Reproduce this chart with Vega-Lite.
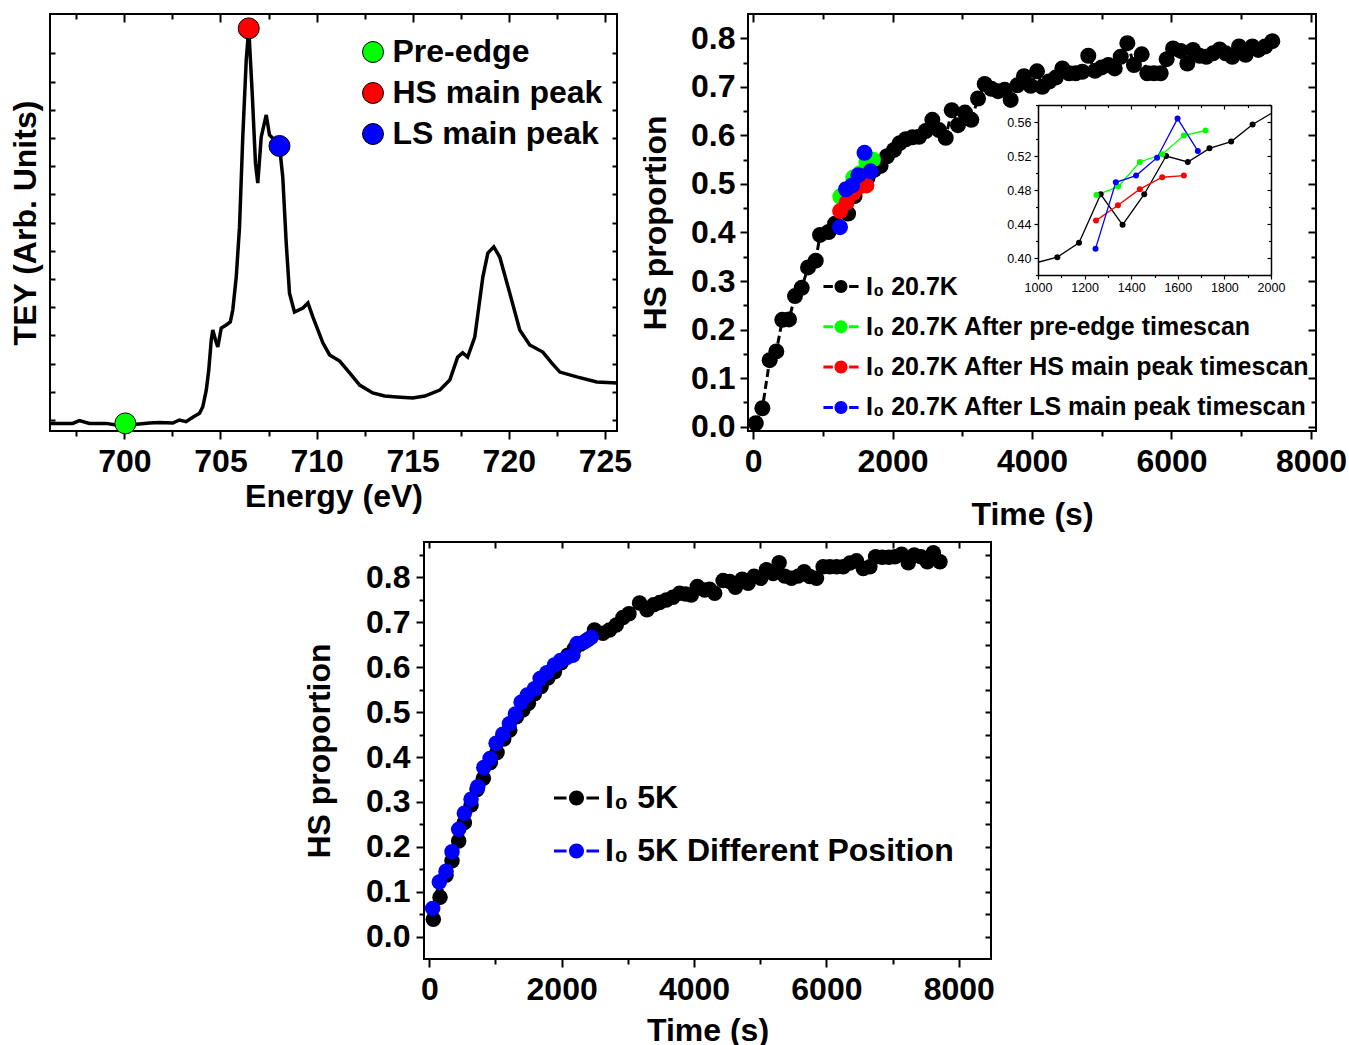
{
  "$schema": "https://vega.github.io/schema/vega-lite/v6.json",
  "background": "white",
  "padding": {"left": 8, "top": 12, "right": 0, "bottom": 0},
  "config": {
    "font": "Liberation Sans",
    "view": {"stroke": "#000", "strokeWidth": 2},
    "axis": {"grid": false, "domain": false, "labelFont": "Liberation Sans", "labelFontWeight": "bold", "labelFontSize": 32, "labelColor": "#000", "titleFont": "Liberation Sans", "titleFontWeight": "bold", "titleFontSize": 32, "titleColor": "#000", "tickColor": "#000", "tickWidth": 2, "labelOverlap": false, "labelFlush": false, "labelBound": false},
    "legend": {"labelFont": "Liberation Sans", "labelFontWeight": "bold", "labelColor": "#000", "padding": 0, "labelLimit": 2000}
  },
  "datasets": {
    "spectrum": [
      {"E":696.18,"v":-0.12},{"E":696.79,"v":-0.12},{"E":697.31,"v":-0.12},{"E":697.66,"v":-0.02},{"E":698.18,"v":-0.12},{"E":699.05,"v":-0.12},{"E":699.57,"v":-0.18},{"E":700.05,"v":-0.18},{"E":700.78,"v":-0.14},{"E":701.30,"v":-0.11},{"E":701.82,"v":-0.09},{"E":702.52,"v":-0.11},{"E":702.86,"v":0.0},{"E":703.21,"v":-0.06},{"E":703.56,"v":0.10},{"E":703.91,"v":0.24},{"E":704.08,"v":0.47},{"E":704.26,"v":1.06},{"E":704.39,"v":1.77},{"E":704.52,"v":2.84},{"E":704.60,"v":3.19},{"E":704.74,"v":2.84},{"E":704.86,"v":2.59},{"E":705.04,"v":3.26},{"E":705.30,"v":3.37},{"E":705.51,"v":3.48},{"E":705.64,"v":3.90},{"E":705.82,"v":5.07},{"E":705.99,"v":6.84},{"E":706.16,"v":10.04},{"E":706.34,"v":12.77},{"E":706.47,"v":13.88},{"E":706.65,"v":11.60},{"E":706.82,"v":9.11},{"E":706.94,"v":8.40},{"E":707.12,"v":10.04},{"E":707.38,"v":10.82},{"E":707.55,"v":10.11},{"E":707.81,"v":9.93},{"E":708.07,"v":9.72},{"E":708.24,"v":8.62},{"E":708.42,"v":6.28},{"E":708.59,"v":4.50},{"E":708.85,"v":3.83},{"E":709.29,"v":3.97},{"E":709.55,"v":4.15},{"E":709.81,"v":3.65},{"E":710.33,"v":2.73},{"E":710.68,"v":2.31},{"E":711.20,"v":2.09},{"E":711.72,"v":1.67},{"E":712.24,"v":1.24},{"E":712.92,"v":0.96},{"E":713.54,"v":0.85},{"E":714.17,"v":0.82},{"E":715.00,"v":0.78},{"E":715.63,"v":0.85},{"E":716.41,"v":1.06},{"E":716.93,"v":1.42},{"E":717.34,"v":2.23},{"E":717.60,"v":2.38},{"E":717.86,"v":2.23},{"E":718.23,"v":2.94},{"E":718.65,"v":5.07},{"E":718.91,"v":5.92},{"E":719.22,"v":6.14},{"E":719.53,"v":5.78},{"E":720.05,"v":4.50},{"E":720.57,"v":3.19},{"E":721.09,"v":2.66},{"E":721.77,"v":2.41},{"E":722.24,"v":2.02},{"E":722.66,"v":1.70},{"E":723.54,"v":1.53},{"E":724.58,"v":1.35},{"E":725.63,"v":1.31}
    ],
    "markers": [
      {"E":700.05,"v":-0.12,"label":"Pre-edge"},
      {"E":706.47,"v":13.89,"label":"HS main peak"},
      {"E":708.07,"v":9.72,"label":"LS main peak"}
    ],
    "ts20": [
      {"t":39,"y":0.007,"s":"I₀ 20.7K"},{"t":134,"y":0.038,"s":"I₀ 20.7K"},{"t":239,"y":0.137,"s":"I₀ 20.7K"},{"t":334,"y":0.155,"s":"I₀ 20.7K"},{"t":420,"y":0.220,"s":"I₀ 20.7K"},{"t":516,"y":0.221,"s":"I₀ 20.7K"},{"t":602,"y":0.269,"s":"I₀ 20.7K"},{"t":698,"y":0.286,"s":"I₀ 20.7K"},{"t":789,"y":0.328,"s":"I₀ 20.7K"},{"t":899,"y":0.342,"s":"I₀ 20.7K"},{"t":961,"y":0.395,"s":"I₀ 20.7K"},{"t":1083,"y":0.401,"s":"I₀ 20.7K"},{"t":1176,"y":0.418,"s":"I₀ 20.7K"},{"t":1269,"y":0.475,"s":"I₀ 20.7K"},{"t":1363,"y":0.439,"s":"I₀ 20.7K"},{"t":1456,"y":0.475,"s":"I₀ 20.7K"},{"t":1550,"y":0.520,"s":"I₀ 20.7K"},{"t":1643,"y":0.513,"s":"I₀ 20.7K"},{"t":1736,"y":0.529,"s":"I₀ 20.7K"},{"t":1829,"y":0.537,"s":"I₀ 20.7K"},{"t":1921,"y":0.557,"s":"I₀ 20.7K"},{"t":2022,"y":0.570,"s":"I₀ 20.7K"},{"t":2103,"y":0.584,"s":"I₀ 20.7K"},{"t":2189,"y":0.592,"s":"I₀ 20.7K"},{"t":2285,"y":0.596,"s":"I₀ 20.7K"},{"t":2380,"y":0.597,"s":"I₀ 20.7K"},{"t":2476,"y":0.609,"s":"I₀ 20.7K"},{"t":2571,"y":0.632,"s":"I₀ 20.7K"},{"t":2667,"y":0.611,"s":"I₀ 20.7K"},{"t":2763,"y":0.595,"s":"I₀ 20.7K"},{"t":2849,"y":0.652,"s":"I₀ 20.7K"},{"t":2939,"y":0.621,"s":"I₀ 20.7K"},{"t":3039,"y":0.647,"s":"I₀ 20.7K"},{"t":3130,"y":0.632,"s":"I₀ 20.7K"},{"t":3226,"y":0.676,"s":"I₀ 20.7K"},{"t":3322,"y":0.706,"s":"I₀ 20.7K"},{"t":3417,"y":0.696,"s":"I₀ 20.7K"},{"t":3513,"y":0.691,"s":"I₀ 20.7K"},{"t":3608,"y":0.694,"s":"I₀ 20.7K"},{"t":3694,"y":0.673,"s":"I₀ 20.7K"},{"t":3789,"y":0.703,"s":"I₀ 20.7K"},{"t":3885,"y":0.722,"s":"I₀ 20.7K"},{"t":3981,"y":0.702,"s":"I₀ 20.7K"},{"t":4072,"y":0.732,"s":"I₀ 20.7K"},{"t":4148,"y":0.700,"s":"I₀ 20.7K"},{"t":4244,"y":0.711,"s":"I₀ 20.7K"},{"t":4340,"y":0.719,"s":"I₀ 20.7K"},{"t":4435,"y":0.738,"s":"I₀ 20.7K"},{"t":4530,"y":0.728,"s":"I₀ 20.7K"},{"t":4626,"y":0.728,"s":"I₀ 20.7K"},{"t":4721,"y":0.731,"s":"I₀ 20.7K"},{"t":4807,"y":0.764,"s":"I₀ 20.7K"},{"t":4903,"y":0.733,"s":"I₀ 20.7K"},{"t":4999,"y":0.740,"s":"I₀ 20.7K"},{"t":5094,"y":0.745,"s":"I₀ 20.7K"},{"t":5186,"y":0.738,"s":"I₀ 20.7K"},{"t":5272,"y":0.762,"s":"I₀ 20.7K"},{"t":5367,"y":0.790,"s":"I₀ 20.7K"},{"t":5462,"y":0.745,"s":"I₀ 20.7K"},{"t":5573,"y":0.767,"s":"I₀ 20.7K"},{"t":5653,"y":0.728,"s":"I₀ 20.7K"},{"t":5749,"y":0.728,"s":"I₀ 20.7K"},{"t":5845,"y":0.728,"s":"I₀ 20.7K"},{"t":5931,"y":0.757,"s":"I₀ 20.7K"},{"t":6022,"y":0.779,"s":"I₀ 20.7K"},{"t":6132,"y":0.774,"s":"I₀ 20.7K"},{"t":6227,"y":0.748,"s":"I₀ 20.7K"},{"t":6308,"y":0.776,"s":"I₀ 20.7K"},{"t":6404,"y":0.764,"s":"I₀ 20.7K"},{"t":6499,"y":0.762,"s":"I₀ 20.7K"},{"t":6595,"y":0.769,"s":"I₀ 20.7K"},{"t":6691,"y":0.777,"s":"I₀ 20.7K"},{"t":6777,"y":0.769,"s":"I₀ 20.7K"},{"t":6872,"y":0.762,"s":"I₀ 20.7K"},{"t":6968,"y":0.783,"s":"I₀ 20.7K"},{"t":7063,"y":0.766,"s":"I₀ 20.7K"},{"t":7159,"y":0.783,"s":"I₀ 20.7K"},{"t":7245,"y":0.776,"s":"I₀ 20.7K"},{"t":7341,"y":0.783,"s":"I₀ 20.7K"},{"t":7445,"y":0.794,"s":"I₀ 20.7K"},
      {"t":1251,"y":0.474,"s":"I₀ 20.7K After pre-edge timescan"},{"t":1344,"y":0.484,"s":"I₀ 20.7K After pre-edge timescan"},{"t":1437,"y":0.513,"s":"I₀ 20.7K After pre-edge timescan"},{"t":1533,"y":0.522,"s":"I₀ 20.7K After pre-edge timescan"},{"t":1626,"y":0.544,"s":"I₀ 20.7K After pre-edge timescan"},{"t":1719,"y":0.550,"s":"I₀ 20.7K After pre-edge timescan"},
      {"t":1249,"y":0.444,"s":"I₀ 20.7K After HS main peak timescan"},{"t":1343,"y":0.462,"s":"I₀ 20.7K After HS main peak timescan"},{"t":1437,"y":0.481,"s":"I₀ 20.7K After HS main peak timescan"},{"t":1533,"y":0.495,"s":"I₀ 20.7K After HS main peak timescan"},{"t":1626,"y":0.497,"s":"I₀ 20.7K After HS main peak timescan"},
      {"t":1247,"y":0.411,"s":"I₀ 20.7K After LS main peak timescan"},{"t":1334,"y":0.489,"s":"I₀ 20.7K After LS main peak timescan"},{"t":1421,"y":0.497,"s":"I₀ 20.7K After LS main peak timescan"},{"t":1511,"y":0.518,"s":"I₀ 20.7K After LS main peak timescan"},{"t":1599,"y":0.564,"s":"I₀ 20.7K After LS main peak timescan"},{"t":1686,"y":0.526,"s":"I₀ 20.7K After LS main peak timescan"}
    ],
    "ts5": [
      {"t":61,"y":0.039,"s":"I₀ 5K"},{"t":162,"y":0.088,"s":"I₀ 5K"},{"t":253,"y":0.137,"s":"I₀ 5K"},{"t":343,"y":0.169,"s":"I₀ 5K"},{"t":444,"y":0.213,"s":"I₀ 5K"},{"t":530,"y":0.254,"s":"I₀ 5K"},{"t":631,"y":0.293,"s":"I₀ 5K"},{"t":722,"y":0.328,"s":"I₀ 5K"},{"t":817,"y":0.353,"s":"I₀ 5K"},{"t":923,"y":0.388,"s":"I₀ 5K"},{"t":1024,"y":0.410,"s":"I₀ 5K"},{"t":1125,"y":0.440,"s":"I₀ 5K"},{"t":1216,"y":0.460,"s":"I₀ 5K"},{"t":1316,"y":0.490,"s":"I₀ 5K"},{"t":1413,"y":0.505,"s":"I₀ 5K"},{"t":1498,"y":0.520,"s":"I₀ 5K"},{"t":1589,"y":0.541,"s":"I₀ 5K"},{"t":1690,"y":0.557,"s":"I₀ 5K"},{"t":1791,"y":0.576,"s":"I₀ 5K"},{"t":1891,"y":0.590,"s":"I₀ 5K"},{"t":1992,"y":0.610,"s":"I₀ 5K"},{"t":2094,"y":0.627,"s":"I₀ 5K"},{"t":2194,"y":0.642,"s":"I₀ 5K"},{"t":2285,"y":0.652,"s":"I₀ 5K"},{"t":2396,"y":0.662,"s":"I₀ 5K"},{"t":2496,"y":0.683,"s":"I₀ 5K"},{"t":2623,"y":0.676,"s":"I₀ 5K"},{"t":2723,"y":0.683,"s":"I₀ 5K"},{"t":2825,"y":0.694,"s":"I₀ 5K"},{"t":2926,"y":0.711,"s":"I₀ 5K"},{"t":3017,"y":0.719,"s":"I₀ 5K"},{"t":3177,"y":0.743,"s":"I₀ 5K"},{"t":3289,"y":0.728,"s":"I₀ 5K"},{"t":3389,"y":0.739,"s":"I₀ 5K"},{"t":3480,"y":0.744,"s":"I₀ 5K"},{"t":3581,"y":0.750,"s":"I₀ 5K"},{"t":3682,"y":0.756,"s":"I₀ 5K"},{"t":3782,"y":0.765,"s":"I₀ 5K"},{"t":3873,"y":0.763,"s":"I₀ 5K"},{"t":3959,"y":0.761,"s":"I₀ 5K"},{"t":4050,"y":0.780,"s":"I₀ 5K"},{"t":4160,"y":0.772,"s":"I₀ 5K"},{"t":4236,"y":0.774,"s":"I₀ 5K"},{"t":4312,"y":0.765,"s":"I₀ 5K"},{"t":4439,"y":0.793,"s":"I₀ 5K"},{"t":4539,"y":0.791,"s":"I₀ 5K"},{"t":4625,"y":0.778,"s":"I₀ 5K"},{"t":4726,"y":0.796,"s":"I₀ 5K"},{"t":4817,"y":0.787,"s":"I₀ 5K"},{"t":4908,"y":0.803,"s":"I₀ 5K"},{"t":5008,"y":0.798,"s":"I₀ 5K"},{"t":5094,"y":0.817,"s":"I₀ 5K"},{"t":5195,"y":0.809,"s":"I₀ 5K"},{"t":5286,"y":0.833,"s":"I₀ 5K"},{"t":5371,"y":0.803,"s":"I₀ 5K"},{"t":5472,"y":0.798,"s":"I₀ 5K"},{"t":5573,"y":0.803,"s":"I₀ 5K"},{"t":5664,"y":0.813,"s":"I₀ 5K"},{"t":5749,"y":0.802,"s":"I₀ 5K"},{"t":5850,"y":0.798,"s":"I₀ 5K"},{"t":5951,"y":0.824,"s":"I₀ 5K"},{"t":6051,"y":0.824,"s":"I₀ 5K"},{"t":6153,"y":0.824,"s":"I₀ 5K"},{"t":6254,"y":0.824,"s":"I₀ 5K"},{"t":6354,"y":0.832,"s":"I₀ 5K"},{"t":6455,"y":0.837,"s":"I₀ 5K"},{"t":6557,"y":0.820,"s":"I₀ 5K"},{"t":6657,"y":0.824,"s":"I₀ 5K"},{"t":6743,"y":0.846,"s":"I₀ 5K"},{"t":6844,"y":0.845,"s":"I₀ 5K"},{"t":6944,"y":0.845,"s":"I₀ 5K"},{"t":7035,"y":0.846,"s":"I₀ 5K"},{"t":7136,"y":0.852,"s":"I₀ 5K"},{"t":7237,"y":0.833,"s":"I₀ 5K"},{"t":7328,"y":0.850,"s":"I₀ 5K"},{"t":7428,"y":0.846,"s":"I₀ 5K"},{"t":7525,"y":0.835,"s":"I₀ 5K"},{"t":7616,"y":0.855,"s":"I₀ 5K"},{"t":7716,"y":0.835,"s":"I₀ 5K"},
      {"t":51,"y":0.063,"s":"I₀ 5K Different Position"},{"t":151,"y":0.122,"s":"I₀ 5K Different Position"},{"t":253,"y":0.146,"s":"I₀ 5K Different Position"},{"t":343,"y":0.189,"s":"I₀ 5K Different Position"},{"t":444,"y":0.239,"s":"I₀ 5K Different Position"},{"t":530,"y":0.275,"s":"I₀ 5K Different Position"},{"t":631,"y":0.306,"s":"I₀ 5K Different Position"},{"t":732,"y":0.334,"s":"I₀ 5K Different Position"},{"t":823,"y":0.377,"s":"I₀ 5K Different Position"},{"t":918,"y":0.397,"s":"I₀ 5K Different Position"},{"t":1009,"y":0.431,"s":"I₀ 5K Different Position"},{"t":1110,"y":0.451,"s":"I₀ 5K Different Position"},{"t":1210,"y":0.474,"s":"I₀ 5K Different Position"},{"t":1301,"y":0.496,"s":"I₀ 5K Different Position"},{"t":1387,"y":0.522,"s":"I₀ 5K Different Position"},{"t":1478,"y":0.538,"s":"I₀ 5K Different Position"},{"t":1589,"y":0.552,"s":"I₀ 5K Different Position"},{"t":1675,"y":0.575,"s":"I₀ 5K Different Position"},{"t":1776,"y":0.588,"s":"I₀ 5K Different Position"},{"t":1891,"y":0.605,"s":"I₀ 5K Different Position"},{"t":1982,"y":0.615,"s":"I₀ 5K Different Position"},{"t":2083,"y":0.622,"s":"I₀ 5K Different Position"},{"t":2169,"y":0.627,"s":"I₀ 5K Different Position"},{"t":2235,"y":0.653,"s":"I₀ 5K Different Position"},{"t":2345,"y":0.657,"s":"I₀ 5K Different Position"},{"t":2446,"y":0.667,"s":"I₀ 5K Different Position"}
    ]
  },
  "spacing": 7,
  "resolve": {"scale": {"color": "independent", "fill": "independent", "stroke": "independent"}},
  "vconcat": [
    {
      "spacing": 5,
      "resolve": {"scale": {"color": "independent", "fill": "independent", "stroke": "independent"}},
      "hconcat": [
        {
          "width": 567, "height": 417,
          "layer": [
            {
              "data": {"name": "spectrum"},
              "mark": {"type": "line", "color": "#000", "strokeWidth": 3.5},
              "encoding": {
                "x": {"field": "E", "type": "quantitative", "scale": {"domain": [696.13, 725.63], "nice": false, "zero": false},
                  "axis": {"orient": "bottom", "values": [697.5,700,702.5,705,707.5,710,712.5,715,717.5,720,722.5,725], "labelExpr": "datum.value % 5 === 0 ? format(datum.value, 'd') : ''", "tickSize": 8, "tickDash": {"condition": {"test": "datum.value % 5 === 0", "value": [20, 1]}, "value": [5, 20]}, "labelPadding": 7, "labelFlush": false, "labelOverlap": false, "title": "Energy (eV)", "titlePadding": 4}},
                "y": {"field": "v", "type": "quantitative", "scale": {"domain": [-0.39, 14.4], "nice": false, "zero": false},
                  "axis": {"orient": "left", "values": [0,1,2,3,4,5,6,7,8,9,10,11,12,13], "labels": false, "tickSize": -5, "title": "TEY (Arb. Units)", "titlePadding": 7}}
              }
            },
            {
              "data": {"name": "markers"},
              "mark": {"type": "point", "filled": true, "size": 441, "stroke": "#000", "strokeWidth": 1, "opacity": 1},
              "encoding": {
                "x": {"field": "E", "type": "quantitative",
                  "axis": {"orient": "top", "values": [697.5,700,702.5,705,707.5,710,712.5,715,717.5,720,722.5,725], "labels": false, "tickSize": -8, "tickDash": {"condition": {"test": "datum.value % 5 === 0", "value": [20, 1]}, "value": [5, 20]}, "title": null}},
                "y": {"field": "v", "type": "quantitative",
                  "axis": {"orient": "right", "values": [0,1,2,3,4,5,6,7,8,9,10,11,12,13], "labels": false, "tickSize": -5, "title": null}},
                "fill": {"field": "label", "type": "nominal", "scale": {"domain": ["Pre-edge", "HS main peak", "LS main peak"], "range": ["#00ff00", "#ff0000", "#0000ff"]},
                  "legend": {"orient": "none", "legendX": 307, "legendY": 22, "title": null, "symbolType": "circle", "symbolSize": 441, "symbolStrokeColor": "#000", "symbolStrokeWidth": 1, "symbolOpacity": 1, "labelFontSize": 32, "labelOffset": 3.5, "rowPadding": 9}}
              }
            }
          ],
          "resolve": {"axis": {"x": "independent", "y": "independent"}}
        },
        {
          "width": 568, "height": 417,
          "data": {"name": "ts20"},
          "layer": [
            {
              "layer": [
                {
                  "mark": {"type": "line", "strokeWidth": 3, "strokeDash": [8, 4]},
                  "encoding": {
                    "x": {"field": "t", "type": "quantitative", "scale": {"domain": [-72, 8072], "nice": false, "zero": false},
                      "axis": {"orient": "bottom", "values": [0,1000,2000,3000,4000,5000,6000,7000,8000], "labelExpr": "datum.value % 2000 === 0 ? format(datum.value, 'd') : ''", "tickSize": 8, "tickDash": {"condition": {"test": "datum.value % 2000 === 0", "value": [20, 1]}, "value": [5, 20]}, "labelPadding": 7, "labelFlush": false, "labelOverlap": false, "title": "Time (s)", "titlePadding": 22}},
                    "y": {"field": "y", "type": "quantitative", "scale": {"domain": [-0.0089, 0.85], "nice": false, "zero": false},
                      "axis": {"orient": "left", "values": [0,0.05,0.1,0.15,0.2,0.25,0.3,0.35,0.4,0.45,0.5,0.55,0.6,0.65,0.7,0.75,0.8], "labelExpr": "abs(datum.value*10-round(datum.value*10)) < 0.001 ? format(datum.value, '.1f') : ''", "tickSize": 8, "tickDash": {"condition": {"test": "abs(datum.value*10-round(datum.value*10)) < 0.001", "value": [20, 1]}, "value": [5, 20]}, "labelPadding": 5, "labelOverlap": false, "title": "HS proportion", "titlePadding": 18}},
                    "stroke": {"field": "s", "type": "nominal", "scale": {"domain": ["I₀ 20.7K", "I₀ 20.7K After pre-edge timescan", "I₀ 20.7K After HS main peak timescan", "I₀ 20.7K After LS main peak timescan"], "range": ["#000000", "#00ff00", "#ff0000", "#0000ff"]},
                      "legend": {"orient": "none", "legendX": 80.5, "legendY": 260, "title": null, "symbolType": "M -2.7 -0.23 L -1.25 -0.23 L -1.25 0.23 L -2.7 0.23 Z M 1.25 -0.23 L 2.7 -0.23 L 2.7 0.23 L 1.25 0.23 Z M -1 0 A 1 1 0 1 1 1 0 A 1 1 0 1 1 -1 0 Z", "symbolSize": 169, "symbolStrokeWidth": 0, "symbolOpacity": 1, "labelFontSize": 25, "labelOffset": 12.5, "rowPadding": 14.3}}
                  }
                },
                {
                  "mark": {"type": "point", "filled": true, "size": 256, "opacity": 1},
                  "encoding": {
                    "x": {"field": "t", "type": "quantitative",
                      "axis": {"orient": "top", "values": [0,1000,2000,3000,4000,5000,6000,7000,8000], "labels": false, "tickSize": -8, "tickDash": {"condition": {"test": "datum.value % 2000 === 0", "value": [20, 1]}, "value": [5, 20]}, "title": null}},
                    "y": {"field": "y", "type": "quantitative",
                      "axis": {"orient": "right", "values": [0,0.05,0.1,0.15,0.2,0.25,0.3,0.35,0.4,0.45,0.5,0.55,0.6,0.65,0.7,0.75,0.8], "labels": false, "tickSize": -8, "tickDash": {"condition": {"test": "abs(datum.value*10-round(datum.value*10)) < 0.001", "value": [20, 1]}, "value": [5, 20]}, "title": null}},
                    "color": {"field": "s", "type": "nominal", "scale": {"domain": ["I₀ 20.7K", "I₀ 20.7K After pre-edge timescan", "I₀ 20.7K After HS main peak timescan", "I₀ 20.7K After LS main peak timescan"], "range": ["#000000", "#00ff00", "#ff0000", "#0000ff"]},
                      "legend": {"orient": "none", "legendX": 80.5, "legendY": 260, "title": null, "symbolType": "M -2.7 -0.23 L -1.25 -0.23 L -1.25 0.23 L -2.7 0.23 Z M 1.25 -0.23 L 2.7 -0.23 L 2.7 0.23 L 1.25 0.23 Z M -1 0 A 1 1 0 1 1 1 0 A 1 1 0 1 1 -1 0 Z", "symbolSize": 169, "symbolStrokeWidth": 0, "symbolOpacity": 1, "labelFontSize": 25, "labelOffset": 12.5, "rowPadding": 14.3}}
                  }
                }
              ],
              "resolve": {"axis": {"x": "independent", "y": "independent"}}
            },
            {
              "layer": [
                {
                  "transform": [{"filter": "datum.t >= 950 && datum.t <= 2030"}],
                  "mark": {"type": "line", "strokeWidth": 1.3},
                  "encoding": {
                    "x": {"field": "t", "type": "quantitative", "scale": {"domain": [1000, 2000], "range": [290, 523], "clamp": true, "nice": false, "zero": false},
                      "axis": {"orient": "bottom", "offset": -156, "values": [1000,1100,1200,1300,1400,1500,1600,1700,1800,1900,2000], "labelExpr": "datum.value % 200 === 0 ? format(datum.value, 'd') : ''", "tickSize": 4, "tickWidth": 1.2, "tickDash": {"condition": {"test": "datum.value % 200 === 0", "value": [20, 1]}, "value": [2.5, 20]}, "labelFontSize": 12.5, "labelFontWeight": "normal", "labelPadding": 2, "labelFlush": false, "labelOverlap": false, "domain": true, "domainColor": "#000", "domainWidth": 1.5, "title": null}},
                    "y": {"field": "y", "type": "quantitative", "scale": {"domain": [0.38, 0.58], "range": [261, 91], "nice": false, "zero": false},
                      "axis": {"orient": "left", "offset": -290, "values": [0.38,0.4,0.42,0.44,0.46,0.48,0.5,0.52,0.54,0.56,0.58], "labelExpr": "abs(datum.value*25-round(datum.value*25)) < 0.001 ? format(datum.value, '.2f') : ''", "tickSize": 4, "tickWidth": 1.2, "tickDash": {"condition": {"test": "abs(datum.value*25-round(datum.value*25)) < 0.001", "value": [20, 1]}, "value": [2.5, 20]}, "labelFontSize": 12.5, "labelFontWeight": "normal", "labelPadding": 3, "labelOverlap": false, "domain": true, "domainColor": "#000", "domainWidth": 1.5, "title": null}},
                    "stroke": {"field": "s", "type": "nominal"}
                  }
                },
                {
                  "transform": [{"filter": "datum.t >= 1000 && datum.t <= 2000"}],
                  "mark": {"type": "point", "filled": true, "size": 36, "opacity": 1},
                  "encoding": {
                    "x": {"field": "t", "type": "quantitative",
                      "axis": {"orient": "top", "offset": -91, "values": [1000,1100,1200,1300,1400,1500,1600,1700,1800,1900,2000], "labels": false, "tickSize": -4, "tickWidth": 1.2, "tickDash": {"condition": {"test": "datum.value % 200 === 0", "value": [20, 1]}, "value": [2.5, 20]}, "domain": true, "domainColor": "#000", "domainWidth": 1.5, "title": null}},
                    "y": {"field": "y", "type": "quantitative",
                      "axis": {"orient": "right", "offset": -45, "values": [0.38,0.4,0.42,0.44,0.46,0.48,0.5,0.52,0.54,0.56,0.58], "labels": false, "tickSize": -4, "tickWidth": 1.2, "tickDash": {"condition": {"test": "abs(datum.value*25-round(datum.value*25)) < 0.001", "value": [20, 1]}, "value": [2.5, 20]}, "domain": true, "domainColor": "#000", "domainWidth": 1.5, "title": null}},
                    "color": {"field": "s", "type": "nominal"}
                  }
                }
              ],
              "resolve": {"axis": {"x": "independent", "y": "independent"}}
            }
          ],
          "resolve": {"scale": {"x": "independent", "y": "independent"}}
        }
      ]
    },
    {
      "spacing": 0,
      "resolve": {"scale": {"color": "independent", "fill": "independent", "stroke": "independent"}},
      "hconcat": [
        {"width": 252, "height": 10, "data": {"values": []}, "mark": "point", "view": {"stroke": null}},
        {
          "width": 567, "height": 417,
          "data": {"name": "ts5"},
          "layer": [
            {
              "mark": {"type": "line", "strokeWidth": 3, "strokeDash": [8, 4]},
              "encoding": {
                "x": {"field": "t", "type": "quantitative", "scale": {"domain": [-80, 8487], "nice": false, "zero": false},
                  "axis": {"orient": "bottom", "values": [0,1000,2000,3000,4000,5000,6000,7000,8000], "labelExpr": "datum.value % 2000 === 0 ? format(datum.value, 'd') : ''", "tickSize": 8, "tickDash": {"condition": {"test": "datum.value % 2000 === 0", "value": [20, 1]}, "value": [5, 20]}, "labelPadding": 7, "labelFlush": false, "labelOverlap": false, "title": "Time (s)", "titlePadding": 10}},
                "y": {"field": "y", "type": "quantitative", "scale": {"domain": [-0.0497, 0.879], "nice": false, "zero": false},
                  "axis": {"orient": "left", "values": [0,0.05,0.1,0.15,0.2,0.25,0.3,0.35,0.4,0.45,0.5,0.55,0.6,0.65,0.7,0.75,0.8,0.85], "labelExpr": "abs(datum.value*10-round(datum.value*10)) < 0.001 ? format(datum.value, '.1f') : ''", "tickSize": 8, "tickDash": {"condition": {"test": "abs(datum.value*10-round(datum.value*10)) < 0.001", "value": [20, 1]}, "value": [5, 20]}, "labelPadding": 6, "labelOverlap": false, "title": "HS proportion", "titlePadding": 29}},
                "stroke": {"field": "s", "type": "nominal", "scale": {"domain": ["I₀ 5K", "I₀ 5K Different Position"], "range": ["#000000", "#0000ff"]},
                  "legend": {"orient": "none", "legendX": 136.5, "legendY": 240, "title": null, "symbolType": "M -3 -0.2 L -1.33 -0.2 L -1.33 0.2 L -3 0.2 Z M 1.33 -0.2 L 3 -0.2 L 3 0.2 L 1.33 0.2 Z M -1 0 A 1 1 0 1 1 1 0 A 1 1 0 1 1 -1 0 Z", "symbolSize": 225, "symbolStrokeWidth": 0, "symbolOpacity": 1, "labelFontSize": 32, "labelOffset": 12.5, "rowPadding": 21}}
              }
            },
            {
              "mark": {"type": "point", "filled": true, "size": 240, "opacity": 1},
              "encoding": {
                "x": {"field": "t", "type": "quantitative",
                  "axis": {"orient": "top", "values": [0,1000,2000,3000,4000,5000,6000,7000,8000], "labels": false, "tickSize": -6, "title": null}},
                "y": {"field": "y", "type": "quantitative",
                  "axis": {"orient": "right", "values": [0,0.05,0.1,0.15,0.2,0.25,0.3,0.35,0.4,0.45,0.5,0.55,0.6,0.65,0.7,0.75,0.8,0.85], "labels": false, "tickSize": -6, "title": null}},
                "color": {"field": "s", "type": "nominal", "scale": {"domain": ["I₀ 5K", "I₀ 5K Different Position"], "range": ["#000000", "#0000ff"]},
                  "legend": {"orient": "none", "legendX": 136.5, "legendY": 240, "title": null, "symbolType": "M -3 -0.2 L -1.33 -0.2 L -1.33 0.2 L -3 0.2 Z M 1.33 -0.2 L 3 -0.2 L 3 0.2 L 1.33 0.2 Z M -1 0 A 1 1 0 1 1 1 0 A 1 1 0 1 1 -1 0 Z", "symbolSize": 225, "symbolStrokeWidth": 0, "symbolOpacity": 1, "labelFontSize": 32, "labelOffset": 12.5, "rowPadding": 21}}
              }
            }
          ],
          "resolve": {"axis": {"x": "independent", "y": "independent"}}
        }
      ]
    }
  ]
}
